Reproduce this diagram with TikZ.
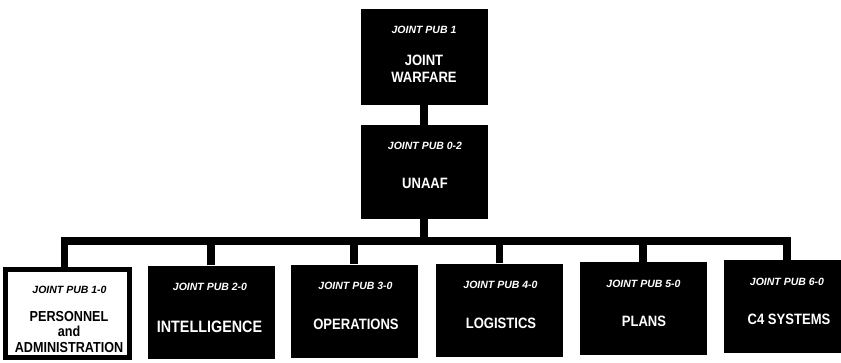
\documentclass[tikz,border=0pt]{standalone}
\usepackage{fontspec}
\setmainfont{Liberation Sans}
\newfontfamily\condfont[FakeStretch=0.87]{Liberation Sans}
\usepackage{tikz}

\begin{document}
\begin{tikzpicture}[x=1pt, y=-1pt,
  pub/.style={rectangle, fill=black, inner sep=0pt,
              minimum width=127pt, minimum height=93pt},
  pubwhite/.style={pub, fill=white, draw=black, line width=5pt,
                   minimum width=124pt, minimum height=88pt},
  pubno/.style={anchor=base, text=white, inner sep=0pt,
                font=\bfseries\itshape\fontsize{10.5}{12}\selectfont},
  pubname/.style={text=white, inner sep=0pt, align=center,
                  font=\condfont\bfseries\fontsize{15}{17}\selectfont},
  link/.style={line width=7.5pt, line join=miter},
]
  \useasboundingbox (0,0) rectangle (841,362);

  \node[pub, minimum height=96pt] (warfare) at (424,57) {};
  \node[pubno] (warfare-no) at (424,33) {JOINT PUB 1};
  \node[pubname] (warfare-name) at (424,69) {JOINT\\WARFARE};

  \node[pub, minimum height=94pt] (unaaf) at (424,172) {};
  \node[pubno] (unaaf-no) at (425,149) {JOINT PUB 0-2};
  \node[pubname, anchor=base] (unaaf-name) at (425,188) {UNAAF};

  \coordinate (bus) at (424,241);

  % service level pubs
  \node[pubwhite] (pers) at (67.5,313.5) {};
  \node[pubno, text=black] (pers-no) at (69.5,293) {JOINT PUB 1-0};
  \node[pubname, text=black, font=\condfont\bfseries\fontsize{14.5}{15.5}\selectfont]
    (pers-name) at (69,332) {PERSONNEL\\and\\ADMINISTRATION};

  \node[pub] (intel) at (211,312) {};
  \node[pubno] (intel-no) at (210,290) {JOINT PUB 2-0};
  \node[pubname, anchor=base, font=\condfont\bfseries\fontsize{16.5}{18}\selectfont]
    (intel-name) at (209.5,332) {INTELLIGENCE};

  \node[pub] (ops) at (354,311) {};
  \node[pubno] (ops-no) at (355.5,289) {JOINT PUB 3-0};
  \node[pubname, anchor=base] (ops-name) at (356,329) {OPERATIONS};

  \node[pub] (log) at (499.5,310) {};
  \node[pubno] (log-no) at (500.5,288) {JOINT PUB 4-0};
  \node[pubname, anchor=base] (log-name) at (501,328) {LOGISTICS};

  \node[pub] (plans) at (643,308.5) {};
  \node[pubno] (plans-no) at (643.5,287) {JOINT PUB 5-0};
  \node[pubname, anchor=base] (plans-name) at (644,326.5) {PLANS};

  \node[pub] (c4) at (787,306.5) {};
  \node[pubno] (c4-no) at (787,285) {JOINT PUB 6-0};
  \node[pubname, anchor=base] (c4-name) at (789,324.5) {C4 SYSTEMS};

  \draw[link] (warfare.south) -- (unaaf.north);
  \draw[link] (unaaf.south) -- (bus);
  \draw[link] ([xshift=-3pt]pers.north) |- (bus) -| (c4.north);
  \draw[link] (intel.north) -- (intel.north |- bus);
  \draw[link] (ops.north) -- (ops.north |- bus);
  \draw[link] (log.north) -- (log.north |- bus);
  \draw[link] (plans.north) -- (plans.north |- bus);
\end{tikzpicture}
\end{document}
